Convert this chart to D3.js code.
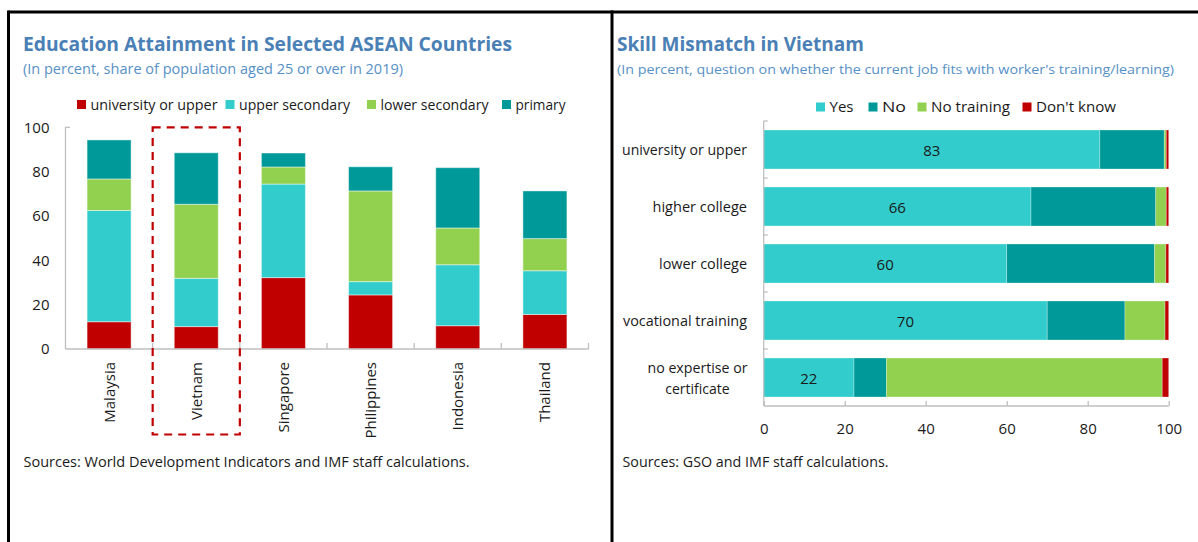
<!DOCTYPE html>
<html>
<head>
<meta charset="utf-8">
<script src="https://cdn.jsdelivr.net/npm/d3@7"></script>
<style>
  body { margin: 0; background: #fff; }
  text { font-family: "Open Sans", "Noto Sans", sans-serif; fill: #1a1a1a; }
</style>
</head>
<body>
<div id="chart"></div>
<script>
// ---- data: left panel (education attainment, % of pop 25+) ----
const countries = ["Malaysia", "Vietnam", "Singapore", "Philippines", "Indonesia", "Thailand"];
const university = [12.3, 10.1, 32.2, 24.4, 10.5, 15.6];
const upperSecondary = [50.2, 21.8, 42.2, 6.0, 27.5, 19.7];
const lowerSecondary = [14.2, 33.4, 7.7, 40.9, 16.6, 14.5];
const primary = [17.6, 23.2, 6.3, 10.9, 27.2, 21.5];
const eduSeries = ["university or upper", "upper secondary", "lower secondary", "primary"];
const eduTicks = [0, 20, 40, 60, 80, 100];

// ---- data: right panel (skill mismatch in Vietnam) ----
const levels = ["university or upper", "higher college", "lower college", "vocational training", "no expertise or certificate"];
const yes = [83, 66, 60, 70, 22.3];
const no = [15.9, 30.8, 36.5, 19.2, 8.0];
const noTraining = [0.5, 2.6, 2.8, 9.9, 68.1];
const dontKnow = [0.6, 0.6, 0.7, 0.9, 1.6];
const fitSeries = ["Yes", "No", "No training", "Don't know"];
const fitTicks = [0, 20, 40, 60, 80, 100];

const red = "#c00000", cyan = "#33cccc", green = "#92d050", teal = "#009999";
const titleColor = "#4a80b5", subColor = "#5690c6", axisColor = "#bfbfbf";

const svg = d3.select("#chart").append("svg")
  .attr("width", 1198)
  .attr("height", 542);

// frame lines
svg.append("line").attr("x1", 8.5).attr("x2", 1198).attr("y1", 12).attr("y2", 12)
  .attr("stroke", "#000").attr("stroke-width", 3);
svg.append("line").attr("x1", 8.5).attr("x2", 8.5).attr("y1", 10.5).attr("y2", 542)
  .attr("stroke", "#000").attr("stroke-width", 3);
svg.append("line").attr("x1", 612).attr("x2", 612).attr("y1", 10.5).attr("y2", 542)
  .attr("stroke", "#000").attr("stroke-width", 3);

function txt(g, s, x, y, size, len) {
  const t = g.append("text").attr("x", x).attr("y", y).style("font-size", size + "px").text(s);
  if (len) t.attr("textLength", len).attr("lengthAdjust", "spacingAndGlyphs");
  return t;
}

// ================= LEFT PANEL =================
const left = svg.append("g");

txt(left, "Education Attainment in Selected ASEAN Countries", 23, 51, 20, 489)
  .style("font-weight", "bold").style("fill", titleColor);
txt(left, "(In percent, share of population aged 25 or over in 2019)", 23, 74, 14, 380)
  .style("fill", subColor);

const eduColor = d3.scaleOrdinal().domain(eduSeries).range([red, cyan, green, teal]);

// legend
const eduLegX = [77, 225.5, 367, 502];
const eduLegW = [127, 111, 108, 50];
eduSeries.forEach((s, i) => {
  left.append("rect").attr("x", eduLegX[i]).attr("y", 100).attr("width", 9).attr("height", 9)
    .attr("fill", eduColor(s));
  txt(left, s, eduLegX[i] + 13.5, 110, 14.5, eduLegW[i]);
});

const x = d3.scaleBand()
  .domain(countries)
  .range([65.5, 588.5])
  .paddingInner(0.495)
  .paddingOuter(0.2475);

const y = d3.scaleLinear()
  .domain([0, 100])
  .range([349, 127.3]);

const eduRows = countries.map((c, i) => ({
  country: c,
  "university or upper": university[i],
  "upper secondary": upperSecondary[i],
  "lower secondary": lowerSecondary[i],
  "primary": primary[i]
}));
const eduStack = d3.stack().keys(eduSeries)(eduRows);

left.selectAll("g.layer")
  .data(eduStack)
  .enter().append("g").attr("class", "layer")
  .attr("fill", d => eduColor(d.key))
  .selectAll("rect")
  .data(d => d)
  .enter().append("rect")
  .attr("x", d => x(d.data.country))
  .attr("width", x.bandwidth())
  .attr("y", d => y(d[1]))
  .attr("height", d => y(d[0]) - y(d[1]))
  .attr("stroke", "#fff")
  .attr("stroke-opacity", 0.45)
  .attr("stroke-width", 1);

// axes
const yAxisL = left.append("g").attr("transform", "translate(65.5,0)")
  .call(d3.axisLeft(y).tickValues(eduTicks).tickSize(0).tickPadding(16));
yAxisL.select(".domain").attr("stroke", axisColor).attr("stroke-width", 1.3)
  .attr("d", `M4.5,${y(100)}H0V${y(0)}`);
yAxisL.selectAll("text").style("font-size", "15px").style("font-family", "Open Sans, sans-serif")
  .attr("fill", "#1a1a1a");

const xAxisL = left.append("g").attr("transform", `translate(0,${y(0)})`);
xAxisL.append("line").attr("x1", 65.5).attr("x2", 588.5).attr("y1", 0).attr("y2", 0)
  .attr("stroke", axisColor).attr("stroke-width", 1.3);
const gapL = (x.step() - x.bandwidth()) / 2;
countries.forEach(c => {
  xAxisL.append("line")
    .attr("x1", x(c) + x.bandwidth() + gapL).attr("x2", x(c) + x.bandwidth() + gapL)
    .attr("y1", 0).attr("y2", -6)
    .attr("stroke", axisColor).attr("stroke-width", 1.3);
  left.append("text")
    .attr("transform", `translate(${x(c) + x.bandwidth() / 2 + 5.5},${y(0) + 13}) rotate(-90)`)
    .attr("text-anchor", "end")
    .style("font-size", "15px")
    .text(c);
});

// dashed highlight around Vietnam
left.append("rect")
  .attr("x", x("Vietnam") - gapL)
  .attr("y", y(100))
  .attr("width", x.step())
  .attr("height", 434.5 - y(100))
  .attr("fill", "none")
  .attr("stroke", red)
  .attr("stroke-width", 2.2)
  .attr("stroke-dasharray", "8,6");

txt(left, "Sources: World Development Indicators and IMF staff calculations.", 23.5, 467, 14.5, 446);

// ================= RIGHT PANEL =================
const right = svg.append("g");

txt(right, "Skill Mismatch in Vietnam", 617, 51, 20, 247)
  .style("font-weight", "bold").style("fill", titleColor);
txt(right, "(In percent, question on whether the current job fits with worker's training/learning)", 617, 74, 13, 557)
  .style("fill", subColor);

const fitColor = d3.scaleOrdinal().domain(fitSeries).range([cyan, teal, green, red]);

const fitLegX = [816, 868.5, 917.5, 1022.5];
const fitLegW = [24, 24, 79, 80];
fitSeries.forEach((s, i) => {
  right.append("rect").attr("x", fitLegX[i]).attr("y", 102.5).attr("width", 9).attr("height", 9)
    .attr("fill", fitColor(s));
  txt(right, s, fitLegX[i] + 13.5, 112, 14.5, fitLegW[i]);
});

const xR = d3.scaleLinear().domain([0, 100]).range([763.7, 1168.7]);
const yR = d3.scaleBand()
  .domain(levels)
  .range([121, 406])
  .paddingInner(0.316)
  .paddingOuter(0.158);

const fitRows = levels.map((l, i) => ({
  level: l,
  "Yes": yes[i],
  "No": no[i],
  "No training": noTraining[i],
  "Don't know": dontKnow[i]
}));
const fitStack = d3.stack().keys(fitSeries)(fitRows);

right.selectAll("g.layer")
  .data(fitStack)
  .enter().append("g").attr("class", "layer")
  .attr("fill", d => fitColor(d.key))
  .selectAll("rect")
  .data(d => d)
  .enter().append("rect")
  .attr("y", d => yR(d.data.level))
  .attr("height", yR.bandwidth())
  .attr("x", d => xR(d[0]))
  .attr("width", d => xR(d[1]) - xR(d[0]))
  .attr("stroke", "#fff")
  .attr("stroke-opacity", 0.35)
  .attr("stroke-width", 0.8);

// value labels on "Yes" segment
right.selectAll("text.val")
  .data(fitRows)
  .enter().append("text").attr("class", "val")
  .attr("x", d => xR(d.Yes / 2))
  .attr("y", d => yR(d.level) + yR.bandwidth() / 2 + 6)
  .attr("text-anchor", "middle")
  .style("font-size", "15px")
  .text(d => Math.round(d.Yes));

// axes
right.append("line").attr("x1", xR(0)).attr("x2", xR(0)).attr("y1", 121).attr("y2", 406)
  .attr("stroke", axisColor).attr("stroke-width", 1.3);
const gapR = (yR.step() - yR.bandwidth()) / 2;
levels.forEach(l => {
  right.append("line")
    .attr("x1", xR(0)).attr("x2", xR(0) + 4)
    .attr("y1", yR(l) - gapR).attr("y2", yR(l) - gapR)
    .attr("stroke", axisColor).attr("stroke-width", 1.3);
});

const xAxisR = right.append("g").attr("transform", "translate(0,406)")
  .call(d3.axisBottom(xR).tickValues(fitTicks).tickSize(-5).tickPadding(17));
xAxisR.select(".domain").attr("stroke", axisColor).attr("stroke-width", 1.3)
  .attr("d", `M${xR(0)},0H${xR(100)}`);
xAxisR.selectAll(".tick line").attr("stroke", axisColor).attr("stroke-width", 1.3);
xAxisR.selectAll("text").style("font-size", "15px").style("font-family", "Open Sans, sans-serif")
  .attr("fill", "#1a1a1a");

// category labels (last one wraps onto two centered lines)
const levelW = [125, 94.5, 88, 124];
levels.forEach((l, i) => {
  const cy = yR(l) + yR.bandwidth() / 2;
  if (l === "no expertise or certificate") {
    const t = right.append("text")
      .attr("text-anchor", "middle")
      .style("font-size", "14.5px");
    t.append("tspan").attr("x", 697.5).attr("y", cy - 4.5).text("no expertise or")
      .attr("textLength", 100).attr("lengthAdjust", "spacingAndGlyphs");
    t.append("tspan").attr("x", 697.5).attr("y", cy + 16.5).text("certificate")
      .attr("textLength", 64.5).attr("lengthAdjust", "spacingAndGlyphs");
  } else {
    txt(right, l, 747, cy + 5.5, 14.5, levelW[i]).attr("text-anchor", "end");
  }
});

txt(right, "Sources: GSO and IMF staff calculations.", 622.5, 467, 14.5, 266);
</script>
</body>
</html>
